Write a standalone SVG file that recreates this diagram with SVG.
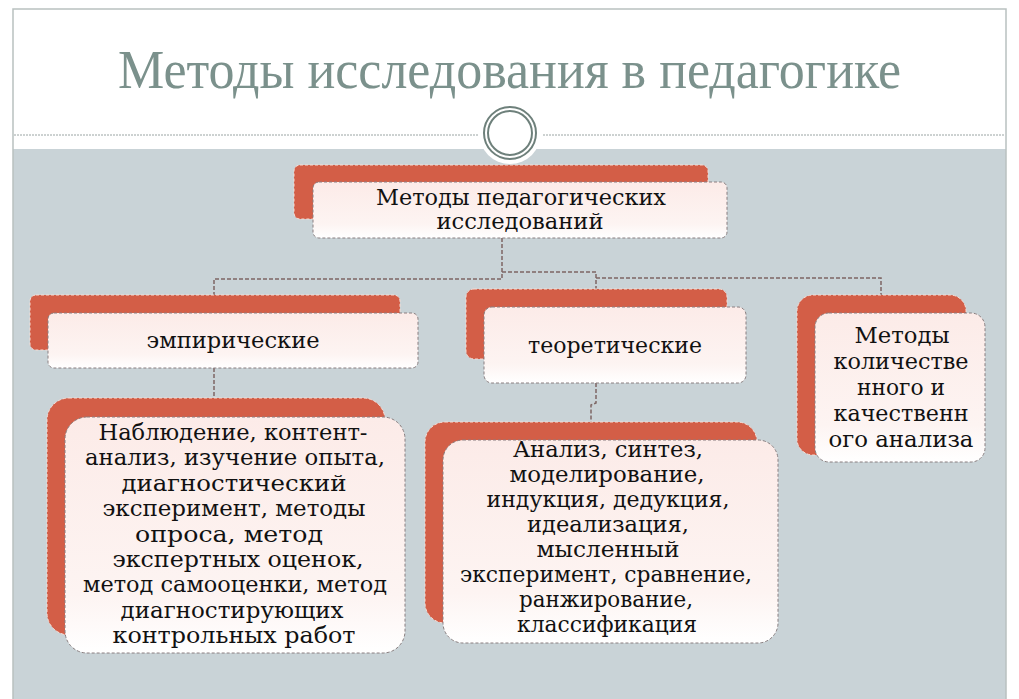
<svg xmlns="http://www.w3.org/2000/svg" width="1019" height="699" viewBox="0 0 1019 699">
<defs>
<linearGradient id="wg" x1="0" y1="0" x2="0" y2="1">
<stop offset="0" stop-color="#fcebe8"/>
<stop offset="0.75" stop-color="#fdf4f2"/>
<stop offset="1" stop-color="#ffffff"/>
</linearGradient>
</defs>
<style>
.red{fill:#d35e47;stroke:#f7dcd4;stroke-width:1;stroke-dasharray:3 2}
.wht{fill:url(#wg);stroke:#8a7f80;stroke-width:1;stroke-dasharray:3 2}
.t{font-family:"DejaVu Serif","Liberation Serif",serif;font-size:22px;fill:#111;text-anchor:middle}
.con{fill:none;stroke:#7d6664;stroke-width:1.5;stroke-dasharray:4 2}
</style>
<rect x="0" y="0" width="1019" height="699" fill="#ffffff"/>
<rect x="13" y="149" width="993" height="550" fill="#c9d3d7"/>
<rect x="13" y="9" width="993" height="700" fill="none" stroke="#b9c1c0" stroke-width="1.5"/>
<line x1="14" y1="135" x2="478" y2="135" stroke="#9aa4a3" stroke-width="1" stroke-dasharray="2 1"/>
<line x1="543" y1="135" x2="1005" y2="135" stroke="#9aa4a3" stroke-width="1" stroke-dasharray="2 1"/>
<text x="509.5" y="88" font-family="Liberation Serif, serif" font-size="54" fill="#7b918c" text-anchor="middle" textLength="783" lengthAdjust="spacingAndGlyphs">Методы исследования в педагогике</text>
<g id="emblem">
<circle cx="510" cy="133" r="31" fill="#ffffff"/>
<circle cx="510" cy="133" r="26" fill="none" stroke="#6e807b" stroke-width="2"/>
<circle cx="510" cy="133" r="22" fill="none" stroke="#6e807b" stroke-width="2"/>
</g>
<g id="connectors">
<polyline class="con" points="502,238 502,279 214,279 214,295"/>
<polyline class="con" points="502,272 596,272 596,289"/>
<polyline class="con" points="596,278 881,278 881,295"/>
<polyline class="con" points="214,368 214,398"/>
<polyline class="con" points="596,383 596,403 591,405 591,422"/>
</g>
<g id="root">
<rect class="red" x="294" y="165" width="414" height="54" rx="6"/>
<rect class="wht" x="313" y="182" width="414" height="56" rx="6"/>
<text class="t" x="521" y="205" textLength="290" lengthAdjust="spacingAndGlyphs">Методы педагогических</text>
<text class="t" x="520" y="229" textLength="167" lengthAdjust="spacingAndGlyphs">исследований</text>
</g>
<g id="empirical">
<rect class="red" x="30" y="295" width="370" height="55" rx="6"/>
<rect class="wht" x="48" y="313" width="370" height="55" rx="6"/>
<text class="t" x="233" y="348" textLength="173" lengthAdjust="spacingAndGlyphs">эмпирические</text>
</g>
<g id="theoretical">
<rect class="red" x="466" y="289" width="261" height="70" rx="8"/>
<rect class="wht" x="484" y="307" width="262" height="76" rx="8"/>
<text class="t" x="615" y="353" textLength="174" lengthAdjust="spacingAndGlyphs">теоретические</text>
</g>
<g id="quantitative">
<rect class="red" x="797" y="295" width="169" height="160" rx="16"/>
<rect class="wht" x="815" y="313" width="170" height="149" rx="14"/>
<text class="t" x="902" y="343" textLength="95" lengthAdjust="spacingAndGlyphs">Методы</text>
<text class="t" x="901" y="369" textLength="135" lengthAdjust="spacingAndGlyphs">количестве</text>
<text class="t" x="901" y="395" textLength="88" lengthAdjust="spacingAndGlyphs">нного и</text>
<text class="t" x="901" y="421" textLength="135" lengthAdjust="spacingAndGlyphs">качественн</text>
<text class="t" x="901" y="447" textLength="145" lengthAdjust="spacingAndGlyphs">ого анализа</text>
</g>
<g id="empirical-methods">
<rect class="red" x="47" y="398" width="338" height="237" rx="22"/>
<rect class="wht" x="65" y="417" width="340" height="236" rx="22"/>
<text class="t" x="233" y="440" textLength="269" lengthAdjust="spacingAndGlyphs">Наблюдение, контент-</text>
<text class="t" x="235" y="465" textLength="300" lengthAdjust="spacingAndGlyphs">анализ, изучение опыта,</text>
<text class="t" x="234" y="491" textLength="225" lengthAdjust="spacingAndGlyphs">диагностический</text>
<text class="t" x="234" y="516" textLength="263" lengthAdjust="spacingAndGlyphs">эксперимент, методы</text>
<text class="t" x="229" y="542" textLength="188" lengthAdjust="spacingAndGlyphs">опроса, метод</text>
<text class="t" x="238" y="567" textLength="251" lengthAdjust="spacingAndGlyphs">экспертных оценок,</text>
<text class="t" x="235" y="592" textLength="304" lengthAdjust="spacingAndGlyphs">метод самооценки, метод</text>
<text class="t" x="232" y="618" textLength="223" lengthAdjust="spacingAndGlyphs">диагностирующих</text>
<text class="t" x="234" y="643" textLength="243" lengthAdjust="spacingAndGlyphs">контрольных работ</text>
</g>
<g id="theoretical-methods">
<rect class="red" x="425" y="422" width="332" height="201" rx="20"/>
<rect class="wht" x="443" y="440" width="335" height="203" rx="20"/>
<text class="t" x="608" y="457" textLength="190" lengthAdjust="spacingAndGlyphs">Анализ, синтез,</text>
<text class="t" x="607" y="482" textLength="195" lengthAdjust="spacingAndGlyphs">моделирование,</text>
<text class="t" x="608" y="507" textLength="243" lengthAdjust="spacingAndGlyphs">индукция, дедукция,</text>
<text class="t" x="608" y="532" textLength="162" lengthAdjust="spacingAndGlyphs">идеализация,</text>
<text class="t" x="608" y="557" textLength="143" lengthAdjust="spacingAndGlyphs">мысленный</text>
<text class="t" x="606" y="582" textLength="292" lengthAdjust="spacingAndGlyphs">эксперимент, сравнение,</text>
<text class="t" x="606" y="607" textLength="174" lengthAdjust="spacingAndGlyphs">ранжирование,</text>
<text class="t" x="607" y="632" textLength="180" lengthAdjust="spacingAndGlyphs">классификация</text>
</g>
</svg>
